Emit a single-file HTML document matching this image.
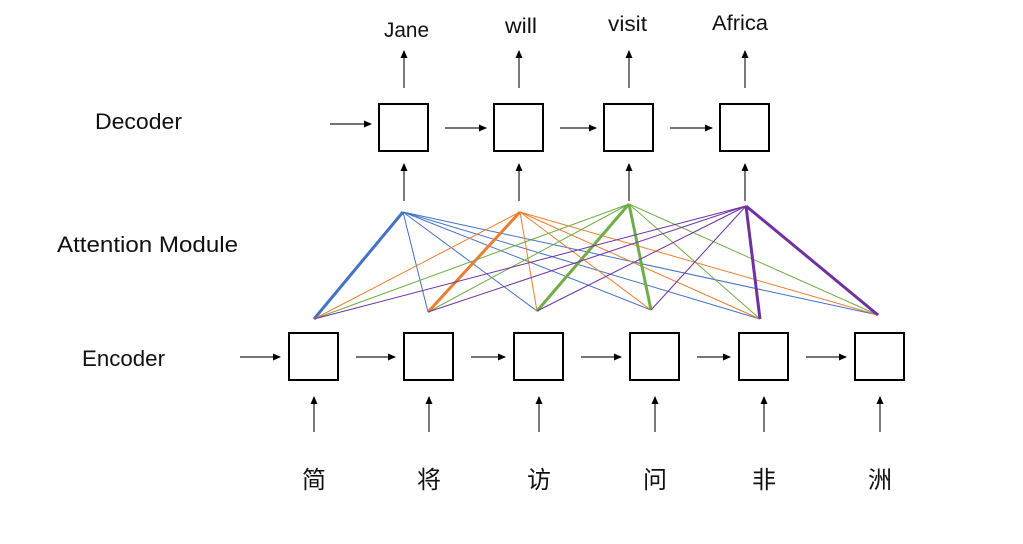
<!DOCTYPE html>
<html><head><meta charset="utf-8"><style>
html,body{margin:0;padding:0;background:#fff;width:1023px;height:544px;overflow:hidden}
text{font-family:"Liberation Sans","Noto Sans CJK SC",sans-serif;fill:#111}
</style></head><body>
<svg id="d" width="1023" height="544" viewBox="0 0 1023 544" xmlns="http://www.w3.org/2000/svg">
<defs><marker id="ah" markerWidth="8" markerHeight="8" refX="7" refY="4" orient="auto" markerUnits="userSpaceOnUse"><path d="M0,0.5 L8,4 L0,7.5z" fill="#000"/></marker></defs>
<text x="95" y="129" font-size="22" textLength="87" lengthAdjust="spacingAndGlyphs">Decoder</text>
<text x="57" y="252" font-size="22" textLength="181" lengthAdjust="spacingAndGlyphs">Attention Module</text>
<text x="82" y="366" font-size="22" textLength="83" lengthAdjust="spacingAndGlyphs">Encoder</text>
<g id="lines"></g><g id="boxes"></g>
</svg>
<script>
const decWords=["Jane","will","visit","Africa"];
const encWords=["简","将","访","问","非","洲"];
const decX=[379,494,604,720];
const decLabelY=[37,33,31,30];
const decLabelX=[384,505,608,712];
const decLabelW=[45,32,39,56];
const encX=[289,404,514,630,739,855];
const topPts=[[403,212],[520,212],[629,204],[746,206]];
const botPts=[[314,319],[428,312],[537,311],[651,310],[760,319],[878,315]];
const colors=["#4472c4","#ed7d31","#70ad47","#7030a0"];
const thick=[[0],[1],[2,3],[4,5]];
const NS="http://www.w3.org/2000/svg";
const L=document.getElementById('lines'),B=document.getElementById('boxes');
function mk(t,a,p){const e=document.createElementNS(NS,t);for(const k in a)e.setAttribute(k,a[k]);p.appendChild(e);return e;}
topPts.forEach((tp,i)=>{botPts.forEach((bp,j)=>{
 const th=thick[i].includes(j);
 const l=mk('line',{x1:tp[0],y1:tp[1],x2:bp[0],y2:bp[1],stroke:colors[i],'stroke-width':th?3:1},L);
 
 
});});
function arrow(x1,y1,x2,y2){const a=mk('line',{x1,y1,x2,y2,stroke:'#222','stroke-width':1.2,'marker-end':'url(#ah)'},B);
 
 }
function box(x,y){const r=mk('rect',{x:x,y:y,width:49,height:47,fill:'#fff',stroke:'#000','stroke-width':2},B);
 
 }
decX.forEach((x,i)=>{box(x,104);const c=x+25;
 arrow(c,201,c,164);arrow(c,88,c,51);
 arrow(i?decX[i-1]+66:330,i?128:124,x-8,i?128:124);
 const t=mk('text',{x:decLabelX[i],y:decLabelY[i],'font-size':21,textLength:decLabelW[i],lengthAdjust:'spacingAndGlyphs'},B);t.textContent=decWords[i];
 
 });
encX.forEach((x,i)=>{box(x,333);const c=x+25;
 arrow(c,432,c,397);
 arrow(i?encX[i-1]+67:240,357,x-9,357);
 const t=mk('text',{x:c,y:488,'font-size':24,'text-anchor':'middle'},B);t.textContent=encWords[i];
 
 });
</script>
</body></html>
